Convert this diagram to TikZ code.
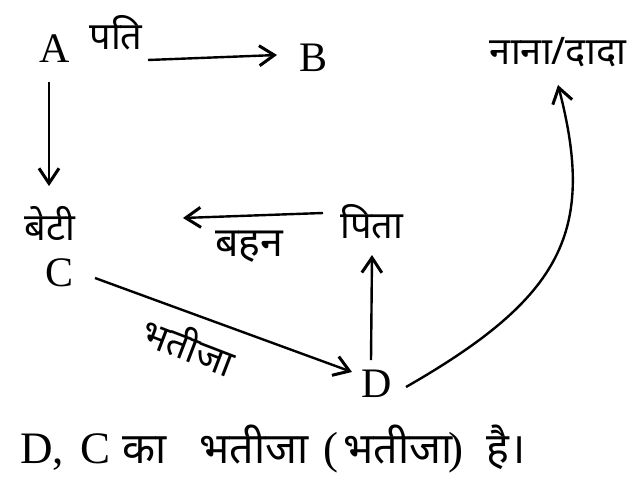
\documentclass[tikz,border=0pt]{standalone}
\usepackage{fontspec}
\setmainfont{Liberation Serif}
\newfontfamily\dev[Script=Devanagari]{Noto Sans}
\newcommand\dvb{\dev\fontsize{21.5}{26}\selectfont}
\usetikzlibrary{arrows.meta}
\begin{document}
\begin{tikzpicture}[x=0.5pt,y=-0.5pt,
  lbl/.style={inner sep=0pt, font=\fontsize{21}{25}\selectfont},
  hin/.style={inner sep=0pt, font=\fontsize{19}{23}\selectfont\dev},
  bot/.style={inner sep=0pt, font=\fontsize{22.5}{27}\selectfont},
  arr/.style={line width=1.2pt, -{Straight Barb[length=7.5pt,width=10pt,line width=1.5pt]}}]
\useasboundingbox (0,0) rectangle (641,481);
% nodes
\node[lbl] (A) at (54.5,48.5) {A};
\node[lbl] (B) at (313.5,57.5) {B};
\node[lbl] (C) at (59.5,272.5) {C};
\node[lbl] (D) at (377,384) {D};
\node[hin] (pati) at (116,32.5) {पति};
\node[hin] (nana) at (558,52) {नाना/दादा};
\node[hin] (beti) at (50,223) {बेटी};
\node[hin] (pita) at (372,222) {पिता};
\node[hin, font=\fontsize{20.5}{24}\selectfont\dev] (bahan) at (249,247) {बहन};
\node[hin, rotate=-21] (bhatija) at (189,345) {भतीजा};
\node[bot, anchor=base west] (concl) at (20,463)
  {\makebox[30pt][l]{D,}\makebox[21pt][l]{C}\makebox[38.5pt][l]{\dvb का}\makebox[62pt][l]{\dvb भतीजा}\makebox[10pt][l]{(}\makebox[52.5pt][l]{\dvb भतीजा}\makebox[19pt][l]{)}{\dvb है।}};
% connector ends
\coordinate (ab1) at (148,60);
\coordinate (ab2) at (277,55);
\coordinate (ac1) at (49,82);
\coordinate (ac2) at (49,186);
\coordinate (pb1) at (323,213);
\coordinate (pb2) at (183,218);
\coordinate (dp1) at (371,360);
\coordinate (dp2) at (372,255);
\coordinate (cd1) at (95,278);
\coordinate (cd2) at (352,372);
\coordinate (dn1) at (406,387);
\coordinate (dn2) at (558,85);
% connectors
\draw[arr] (ab1) -- (ab2);
\draw[arr] (ac1) -- (ac2);
\draw[arr] (pb1) -- (pb2);
\draw[arr] (dp1) -- (dp2);
\draw[arr] (cd1) -- (cd2);
\draw[arr] (dn1) .. controls (563,297) and (596,231) .. (dn2);
\end{tikzpicture}
\end{document}
